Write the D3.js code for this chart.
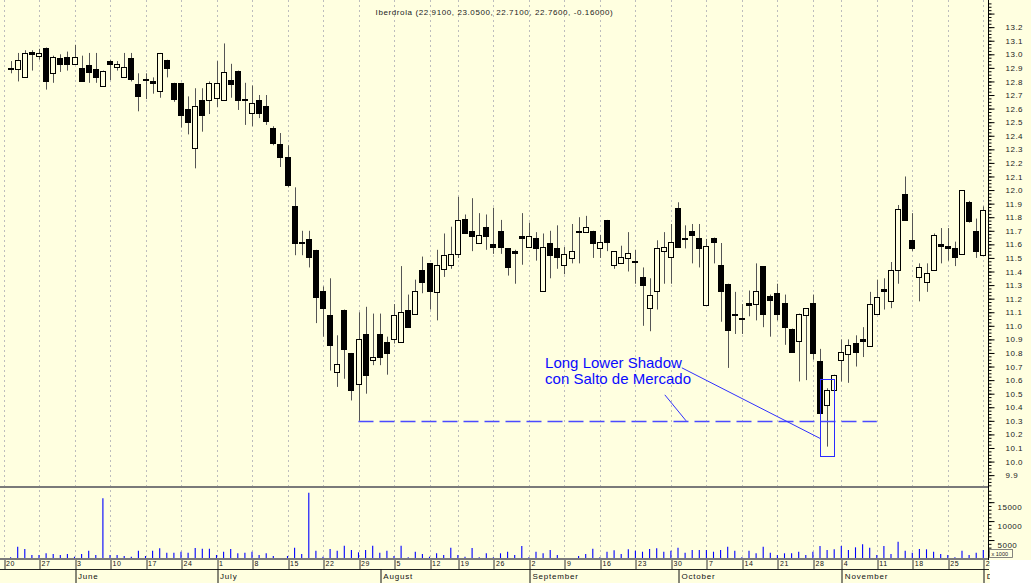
<!DOCTYPE html>
<html lang="en">
<head>
<meta charset="UTF-8">
<title>Iberdrola</title>
<script src="https://d3js.org/d3.v7.min.js"></script>
<style>
    body{
        margin: 0;
        background: #fff;
    }
    svg{
        display: block;
        font-family: Arial, "Liberation Sans", sans-serif;
    }
</style>
</head>
<body>
<svg></svg>
<script>
    // trading calendar (2002), days the market was shut
    const firstDay = '2002-05-20';
    const lastDay = '2002-12-02';
    const holidays = ['2002-08-15', '2002-11-01'];

    // daily values, starting on 21 May
    const open = [12.89,12.89,12.83,13.02,12.99,13.05,12.86,12.97,12.98,12.93,12.90,12.92,12.89,12.77,12.95,12.91,12.83,12.97,12.78,12.82,
        12.80,12.73,12.96,12.79,12.79,12.60,12.31,12.66,12.66,12.68,12.66,12.81,12.88,12.67,12.57,12.66,12.62,12.46,12.34,12.24,
        11.88,11.62,11.64,11.56,11.26,11.08,10.66,11.12,10.80,10.57,10.94,10.75,10.94,10.88,10.90,10.88,11.12,11.09,11.41,11.46,
        11.25,11.42,11.45,11.53,11.79,11.70,11.61,11.73,11.60,11.70,11.57,11.55,11.66,11.58,11.65,11.26,11.61,11.57,11.45,11.50,
        11.70,11.69,11.70,11.57,11.78,11.45,11.46,11.50,11.48,11.36,11.13,11.26,11.55,11.51,11.87,11.65,11.70,11.65,11.15,11.65,
        11.45,11.31,11.09,11.06,11.17,11.16,11.44,11.22,11.24,11.17,10.98,10.89,11.08,11.17,10.74,10.42,10.53,10.75,10.79,10.87,
        10.90,10.85,11.09,11.27,11.18,11.41,11.97,11.63,11.36,11.32,11.41,11.60,11.59,11.57,11.53,11.91,11.70,11.52];
    const high = [12.95,13.01,13.03,13.03,13.04,13.05,12.99,13.00,13.02,13.07,12.99,13.01,13.01,12.88,12.96,12.95,13.01,13.01,12.86,12.86,
        12.83,13.01,12.96,12.79,12.79,12.69,12.75,12.75,12.80,12.95,13.08,12.93,12.88,12.79,12.77,12.70,12.70,12.47,12.42,12.33,
        12.02,11.70,11.70,11.56,11.29,11.35,10.93,11.12,10.80,11.10,11.14,11.09,11.09,10.92,11.16,11.44,11.23,11.34,11.51,11.46,
        11.56,11.68,11.73,11.95,11.82,11.94,11.83,11.82,11.87,11.78,11.57,11.56,11.83,11.76,11.69,11.68,11.70,11.74,11.58,11.75,
        11.80,11.81,11.70,11.67,11.78,11.55,11.59,11.69,11.56,11.43,11.35,11.63,11.69,11.75,11.91,11.74,11.75,11.75,11.64,11.65,
        11.61,11.31,11.25,11.16,11.26,11.46,11.44,11.23,11.31,11.23,10.98,11.09,11.13,11.23,10.83,10.54,10.64,10.90,10.90,10.93,
        10.99,11.25,11.34,11.35,11.47,11.89,12.10,11.83,11.46,11.46,11.68,11.72,11.72,11.62,12.00,11.92,11.79,11.88];
    const low = [12.86,12.80,12.83,12.88,12.96,12.74,12.79,12.87,12.88,12.93,12.80,12.79,12.79,12.76,12.81,12.88,12.83,12.80,12.58,12.67,
        12.71,12.68,12.83,12.65,12.46,12.41,12.16,12.43,12.56,12.61,12.66,12.68,12.59,12.48,12.47,12.53,12.48,12.33,12.17,12.02,
        11.52,11.52,11.43,11.02,10.92,10.67,10.55,10.61,10.45,10.30,10.50,10.71,10.71,10.64,10.87,10.88,10.99,11.09,11.24,11.12,
        11.04,11.36,11.42,11.50,11.68,11.55,11.61,11.56,11.53,11.53,11.37,11.31,11.45,11.58,11.48,11.26,11.35,11.42,11.38,11.46,
        11.46,11.69,11.50,11.50,11.55,11.42,11.46,11.40,11.31,11.00,10.96,11.12,11.31,11.31,11.58,11.57,11.46,11.43,11.15,11.46,
        11.03,10.69,10.94,10.94,11.07,11.04,10.99,10.92,11.04,10.86,10.81,10.59,10.60,10.75,10.25,10.11,10.53,10.59,10.58,10.70,
        10.77,10.85,11.09,11.12,11.13,11.31,11.78,11.55,11.18,11.25,11.41,11.46,11.48,11.44,11.53,11.76,11.50,11.52];
    const close = [12.90,12.96,13.01,13.00,13.01,12.80,12.98,12.93,12.93,12.98,12.80,12.87,12.83,12.88,12.93,12.93,12.91,12.82,12.69,12.81,
        12.79,13.01,12.90,12.67,12.55,12.50,12.62,12.55,12.79,12.79,12.87,12.78,12.66,12.66,12.64,12.57,12.51,12.35,12.24,12.04,
        11.61,11.61,11.51,11.21,11.13,10.86,10.72,10.83,10.53,10.90,10.64,10.77,10.77,10.80,11.08,11.10,10.99,11.26,11.32,11.26,
        11.45,11.52,11.53,11.78,11.68,11.66,11.67,11.66,11.58,11.58,11.43,11.54,11.65,11.66,11.57,11.58,11.52,11.51,11.53,11.55,
        11.69,11.73,11.61,11.62,11.62,11.55,11.51,11.54,11.47,11.30,11.23,11.57,11.58,11.62,11.58,11.64,11.67,11.57,11.59,11.62,
        11.26,10.97,11.08,11.05,11.15,11.26,11.09,11.19,11.09,10.99,10.81,11.09,11.13,10.80,10.36,10.53,10.64,10.81,10.86,10.81,
        10.89,11.16,11.21,11.26,11.41,11.86,11.78,11.57,11.43,11.39,11.67,11.59,11.57,11.51,12.00,11.77,11.55,11.85];
    const volume = [450,3240,2630,1050,1050,1500,1320,1050,1320,610,1320,2180,1050,16050,1050,1050,790,610,2180,790,
        2180,2820,1660,1660,1920,1660,2890,2710,2710,1050,1920,2630,1500,1660,1920,1050,1500,790,130,790,
        2970,1320,17450,2180,610,2630,2180,3500,2370,1760,2370,3500,1660,2180,790,3500,450,1920,1320,610,
        1500,1050,2970,1050,610,2890,450,1500,450,1500,1920,1050,3420,450,1920,1500,2370,1050,130,130,
        790,1320,2710,450,1920,2290,1320,2550,2180,1920,2630,2820,1920,2180,2970,1660,2370,2370,2370,1920,
        2370,3240,2180,450,2180,1500,3240,1660,1050,1500,1500,1920,1050,1920,3420,2370,2550,3420,2370,3080,
        3870,2970,1050,3420,1320,4550,2180,1660,2630,2550,1920,1320,1050,450,2180,1050,1660,2370];

    const priceLabels = d3.range(99, 133).map(v => v / 10);
    const volumeLabels = [5000, 10000, 15000];
    const monthNames = ['June', 'July', 'August', 'September', 'October', 'November', 'December'];
    const title = 'Iberdrola (22.9100, 23.0500, 22.7100, 22.7600, -0.16000)';
    const noteLines = ['Long Lower Shadow', 'con Salto de Mercado'];
    const noteDay = 116;      // the candle that is boxed
    const supportDay = 50;    // low that sets the dashed level
    const supportEnd = 123;

    const width = 1031, height = 583;
    const bg = '#ffffe0';
    const plotRight = 989;
    const priceTop = 0, priceBottom = 487, volBottom = 559;

    const fmt = d3.timeFormat('%Y-%m-%d');
    const parse = d3.timeParse('%Y-%m-%d');
    const days = d3.timeDay.range(parse(firstDay), d3.timeDay.offset(parse(lastDay), 1))
        .filter(d => d.getDay() !== 0 && d.getDay() !== 6 && !holidays.includes(fmt(d)));

    const candles = open.map((o, k) => ({
        date: days[k + 1], o: o, h: high[k], l: low[k], c: close[k], v: volume[k]
    }));

    const svg = d3.select('svg')
        .attr('width', width)
        .attr('height', height);

    svg.append('rect').attr('width', width).attr('height', height).attr('fill', bg);
    svg.append('rect').attr('x', plotRight + 1).attr('y', volBottom + 1)
        .attr('width', width - plotRight).attr('height', height - volBottom).attr('fill', '#fff');

    const x = d3.scalePoint()
        .domain(days)
        .range([3.5, 3.5 + 7.1 * (days.length - 1)]);
    const y = d3.scaleLinear().domain([9.82, 13.4]).range([486, 0]);
    const yV = d3.scaleLinear().domain([0, 19000]).range([volBottom, volBottom - 72]);

    const px = d => Math.round(x(d)) + 0.5;

    svg.append('clipPath').attr('id', 'plotClip')
        .append('rect').attr('x', 0).attr('y', 0).attr('width', plotRight + 1).attr('height', height);
    const plot = svg.append('g').attr('clip-path', 'url(#plotClip)');

    /* weekly dashed grid */
    const mondays = days.filter(d => d.getDay() === 1);
    plot.append('g').selectAll('line')
        .data(mondays)
        .join('line')
        .attr('x1', px).attr('x2', px)
        .attr('y1', priceTop).attr('y2', volBottom)
        .attr('stroke', '#bdbdbd')
        .attr('stroke-dasharray', '2,3');

    /* title */
    plot.append('text')
        .attr('x', plotRight / 2).attr('y', 15)
        .attr('text-anchor', 'middle')
        .attr('font-size', '8px')
        .attr('letter-spacing', '0.6px')
        .attr('fill', '#222')
        .text(title);

    /* candles */
    const cg = plot.append('g').selectAll('g')
        .data(candles)
        .join('g');
    cg.append('line')
        .attr('x1', d => px(d.date)).attr('x2', d => px(d.date))
        .attr('y1', d => y(d.h)).attr('y2', d => y(d.l))
        .attr('stroke', '#555');
    cg.append('rect')
        .attr('x', d => px(d.date) - 3)
        .attr('y', d => Math.round(y(Math.max(d.o, d.c))) + 0.5)
        .attr('width', 5)
        .attr('height', d => Math.max(0, Math.round(y(Math.min(d.o, d.c))) - Math.round(y(Math.max(d.o, d.c)))))
        .attr('fill', d => d.c >= d.o ? bg : '#000')
        .attr('stroke', '#000');

    /* volume */
    plot.append('g').selectAll('line')
        .data(candles)
        .join('line')
        .attr('x1', d => x(d.date)).attr('x2', d => x(d.date))
        .attr('y1', yV(0)).attr('y2', d => yV(d.v))
        .attr('stroke', '#0000ff')
        .attr('stroke-width', 1.1);

    /* panel separators */
    svg.append('line').attr('x1', 0).attr('x2', plotRight).attr('y1', priceBottom).attr('y2', priceBottom)
        .attr('stroke', '#7a7a7a').attr('stroke-width', 2);
    svg.append('line').attr('x1', 0).attr('x2', plotRight).attr('y1', volBottom).attr('y2', volBottom)
        .attr('stroke', '#7a7a7a').attr('stroke-width', 2);

    /* annotation */
    const support = low[supportDay - 1];
    const nd = days[noteDay];
    const note = plot.append('g');
    note.append('line')
        .attr('x1', x(days[supportDay])).attr('x2', x(days[supportEnd]))
        .attr('y1', Math.round(y(support)) + 0.5).attr('y2', Math.round(y(support)) + 0.5)
        .attr('stroke', '#4a4aff').attr('stroke-width', 1.6)
        .attr('stroke-dasharray', '15,6');
    note.append('rect')
        .attr('x', px(nd) - 7).attr('width', 14)
        .attr('y', Math.round(y(high[noteDay - 1])) - 8.5)
        .attr('height', Math.round(y(low[noteDay - 1])) - Math.round(y(high[noteDay - 1])) + 18)
        .attr('fill', 'none').attr('stroke', '#2a2aff');
    const txt = note.selectAll('text')
        .data(noteLines)
        .join('text')
        .attr('x', x(days[76]) + 2)
        .attr('y', (d, k) => y(support) - 53 + k * 16)
        .attr('font-size', '15px')
        .attr('fill', '#0a0aff')
        .text(d => d);
    const firstEnd = x(days[76]) + 2 + txt.node().getComputedTextLength();
    note.append('line')
        .attr('x1', firstEnd).attr('y1', y(support) - 53)
        .attr('x2', px(nd) - 7).attr('y2', y(low[noteDay - 1]) - 8)
        .attr('stroke', '#3030ff');
    note.append('line')
        .attr('x1', x(days[93]) + 1).attr('y1', y(support) - 26)
        .attr('x2', x(days[96]) + 1).attr('y2', y(support))
        .attr('stroke', '#3030ff');

    /* bottom axis: week days */
    const weekAxis = plot.append('g')
        .attr('transform', `translate(0,${volBottom})`)
        .call(d3.axisBottom(x).tickValues(mondays).tickFormat(d3.timeFormat('%-d')).tickSize(10).tickSizeOuter(0));
    weekAxis.select('.domain').remove();
    weekAxis.selectAll('.tick line').attr('stroke', '#333').attr('transform', d => `translate(${px(d) - x(d)},0)`);
    weekAxis.selectAll('.tick text')
        .attr('x', 2).attr('y', 2).attr('dy', '0.71em')
        .attr('text-anchor', 'start')
        .attr('font-size', '7px').attr('letter-spacing', '0.6px')
        .attr('font-family', 'Arial, sans-serif')
        .attr('fill', '#111');

    plot.append('line').attr('x1', 0).attr('x2', plotRight).attr('y1', 569.5).attr('y2', 569.5)
        .attr('stroke', '#222');

    /* bottom axis: months */
    const monthStarts = days.filter((d, k) => k > 0 && d.getMonth() !== days[k - 1].getMonth());
    const monthAxis = plot.append('g')
        .attr('transform', 'translate(0,569)')
        .call(d3.axisBottom(x).tickValues(monthStarts).tickFormat(d => monthNames[d.getMonth() - 5]).tickSize(14).tickSizeOuter(0));
    monthAxis.select('.domain').remove();
    monthAxis.selectAll('.tick line').attr('stroke', '#111').attr('transform', d => `translate(${px(d) - x(d)},0)`);
    monthAxis.selectAll('.tick text')
        .attr('x', 3).attr('y', 4).attr('dy', '0.71em')
        .attr('text-anchor', 'start')
        .attr('font-size', '8px').attr('letter-spacing', '0.8px')
        .attr('font-family', 'Arial, sans-serif')
        .attr('fill', '#111');

    /* right price axis */
    const axisX = plotRight - 0.5;
    const pMinor = svg.append('g').attr('transform', `translate(${axisX},0)`)
        .call(d3.axisRight(y).tickValues(d3.range(9825, 13400, 25).map(v => v / 1000)).tickSize(3).tickFormat(''));
    pMinor.select('.domain').remove();
    const pMajor = svg.append('g').attr('transform', `translate(${axisX},0)`)
        .call(d3.axisRight(y).tickValues(d3.range(99, 134).map(v => v / 10)).tickSize(6)
            .tickFormat(v => priceLabels.some(p => Math.abs(p - v) < 1e-6) ? d3.format('.1f')(v) : ''));
    pMajor.select('.domain').remove();
    pMajor.selectAll('.tick text')
        .attr('x', 17)
        .attr('font-size', '8px').attr('letter-spacing', '0.5px')
        .attr('font-family', 'Arial, sans-serif')
        .attr('fill', '#222');

    /* right volume axis */
    const vMinor = svg.append('g').attr('transform', `translate(${axisX},0)`)
        .call(d3.axisRight(yV).tickValues(d3.range(1000, 19000, 1000)).tickSize(3).tickFormat(''));
    vMinor.select('.domain').remove();
    const vMajor = svg.append('g').attr('transform', `translate(${axisX},0)`)
        .call(d3.axisRight(yV).tickValues(volumeLabels).tickSize(6).tickFormat(d3.format('d')));
    vMajor.select('.domain').remove();
    vMajor.selectAll('.tick text')
        .attr('x', 9).attr('dy', '0.9em')
        .attr('font-size', '8px').attr('letter-spacing', '0.5px')
        .attr('font-family', 'Arial, sans-serif')
        .attr('fill', '#222');

    svg.append('line').attr('x1', axisX).attr('x2', axisX).attr('y1', 0).attr('y2', volBottom + 1)
        .attr('stroke', '#000');

    svg.append('rect').attr('x', axisX + 1).attr('y', yV(0) - 9.5).attr('width', 23).attr('height', 8)
        .attr('fill', bg).attr('stroke', '#666').attr('stroke-width', 0.8);
    svg.append('text').attr('x', axisX + 3).attr('y', yV(0) - 3.2)
        .attr('font-size', '5.5px').attr('fill', '#222')
        .text('x 1000');
</script>
</body>
</html>
